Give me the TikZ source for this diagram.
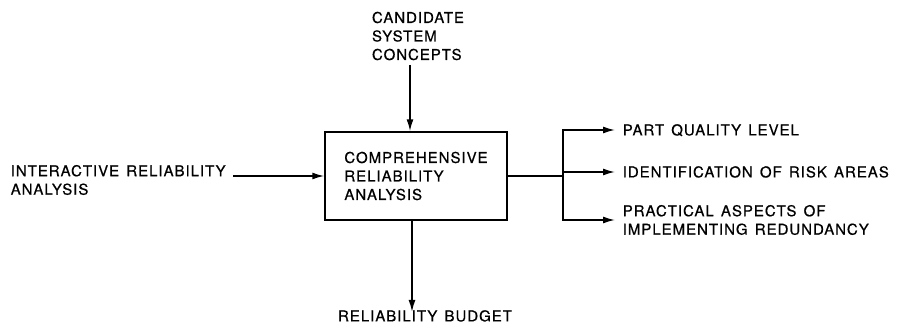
\documentclass[tikz,border=0pt]{standalone}
\usepackage{fontspec}
\setmainfont{TeX Gyre Heros}[LetterSpace=6.5, FakeBold=0.6, WordSpace=1.4]
\usetikzlibrary{arrows.meta}

\begin{document}
\begin{tikzpicture}[
		x=1pt, y=-1pt,
		>={Latex[length=12pt,width=7pt]},
		line width=1.5pt,
		every node/.style={font=\fontsize{15}{18.5}\selectfont},
		block/.style={draw, rectangle, minimum width=182, minimum height=88, align=left, inner sep=0pt},
		txt/.style={align=left, inner xsep=7pt, inner ysep=4pt},
		oneline/.style={txt, text height=10.8pt, text depth=0pt}
	]
		\useasboundingbox (0,0) rectangle (898,327);
		% main block and its inputs
		\node[block] (cra) at (416,176) {COMPREHENSIVE\\RELIABILITY\\ANALYSIS};
		\node[txt] (concepts) at (418,36) {CANDIDATE\\SYSTEM\\CONCEPTS};
		\node[txt, anchor=west] (input) at (3,180) {INTERACTIVE RELIABILITY\\ANALYSIS};
		\node[oneline] (budget) at (425,316) {RELIABILITY BUDGET};
		\draw[->] ([xshift=-8pt]concepts.south) -- ([xshift=-8pt]concepts.south |- cra.north);
		\draw[->] (input.east |- cra.west) -- (cra.west);
		\draw[->] ([xshift=-4pt]cra.south) -- ([xshift=-4pt,yshift=-6pt]cra.south |- budget.north);
		% outputs
		\coordinate (fork) at (563,176);
		\node[oneline, anchor=west] (out1) at (615,130) {PART QUALITY LEVEL};
		\node[oneline, anchor=west] (out2) at (615,172) {IDENTIFICATION OF RISK AREAS};
		\node[txt, anchor=west] (out3) at (615,220) {PRACTICAL ASPECTS OF\\IMPLEMENTING REDUNDANCY};
		\draw (cra.east |- fork) -- (fork);
		\foreach \i in {1,2,3} {
			\draw[->] (fork) |- (out\i.west);
		}
	\end{tikzpicture}
\end{document}
